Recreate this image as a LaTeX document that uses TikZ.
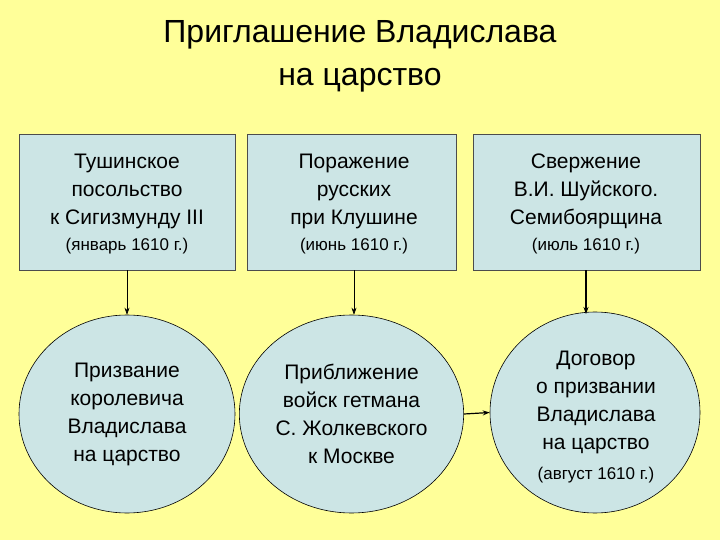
\documentclass[tikz,border=0pt]{standalone}
\usepackage{fontspec}
\setmainfont{Liberation Sans}
\usetikzlibrary{shapes.geometric,arrows.meta}
\definecolor{bg}{HTML}{FFFF99}
\definecolor{boxfill}{HTML}{CCE5E5}
\tikzset{
  box/.style={draw=black!70,fill=boxfill,line width=0.8pt,minimum width=216pt,minimum height=136pt,align=center,font=\fontsize{21}{28}\selectfont},
  oval/.style={draw=black,fill=boxfill,line width=0.6pt,ellipse,minimum width=212pt,minimum height=200pt,align=center,font=\fontsize{21}{28}\selectfont},
  conn/.style={-{Stealth[length=7pt,width=5pt]},line width=0.6pt},
  small/.style={font=\fontsize{17}{20}\selectfont}
}
\begin{document}
\begin{tikzpicture}[x=1pt,y=-1pt]
\fill[bg] (0,0) rectangle (720,540);
\useasboundingbox (0,0) rectangle (720,540);
\node[font=\fontsize{32}{43}\selectfont,align=center] (title) at (360,56) {Приглашение Владислава\\на царство};
\node[box,minimum width=216pt] (b1) at (127,202) {};
\node[box,minimum width=209pt] (b2) at (351.5,202) {};
\node[box,minimum width=227pt] (b3) at (586.5,202) {};
\node[align=center,font=\fontsize{21}{28}\selectfont] (t1) at (127,191) {Тушинское\\посольство\\к Сигизмунду III};
\node[small] (d1) at (127,246) {(январь 1610 г.)};
\node[align=center,font=\fontsize{21}{28}\selectfont] (t2) at (354,191) {Поражение\\русских\\при Клушине};
\node[small] (d2) at (354,246) {(июнь 1610 г.)};
\node[align=center,font=\fontsize{21}{28}\selectfont] (t3) at (586,191) {Свержение\\В.И. Шуйского.\\Семибоярщина};
\node[small] (d3) at (586,246) {(июль 1610 г.)};
\node[oval,minimum width=216pt,minimum height=198pt] (e1) at (127,414) {Призвание\\королевича\\Владислава\\на царство};
\node[oval,minimum width=209pt,minimum height=198pt] (e2) at (351.5,414) {Приближение\\войск гетмана\\С. Жолкевского\\к Москве};
\node[oval,minimum width=210pt,minimum height=201pt] (e3) at (595,412.5) {};
\node[align=center,font=\fontsize{21}{28}\selectfont] (t4) at (596,402) {Договор\\о призвании\\Владислава\\на царство};
\node[small] (d4) at (596,475) {(август 1610 г.)};
\draw[conn] (b1.south) -- (e1.north);
\draw[conn] (b2.south -| e2.north) ++(2.5,0) coordinate (s2) -- (s2 |- e2.north);
\draw[conn,line width=1.2pt] (b3.south -| e3.north) ++(-9,0) coordinate (s3) -- (s3 |- 0,314);
\draw[conn,line width=1.2pt] (e2.east) -- (e3.west);
\end{tikzpicture}
\end{document}
